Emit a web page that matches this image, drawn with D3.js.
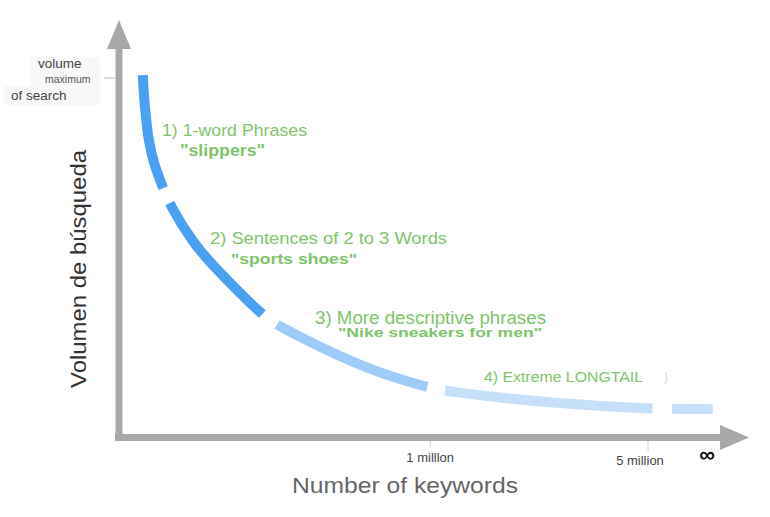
<!DOCTYPE html>
<html>
<head>
<meta charset="utf-8">
<script src="https://cdn.jsdelivr.net/npm/d3@7"></script>
<style>
  html, body { margin: 0; padding: 0; background: #ffffff; }
  svg { display: block; font-family: "Liberation Sans", Arial, sans-serif; }
</style>
</head>
<body>
<svg id="chart" width="770" height="517"></svg>
<script>
// ---- data ----
// position along the "number of keywords" axis (0..100 abstract units)
const keywordPos = [3.8, 3.9, 4.2, 4.7, 5.7, 7.0, 8.3, 12.2, 16.2, 23.7, 26.2, 34.5, 42.8, 50.8, 54.2, 71.7, 88.7, 98.8];
// search volume (100 = maximum volume of search)
const searchVol  = [100.8, 97.0, 91.1, 82.8, 75.8, 70.2, 64.6, 54.0, 46.5, 34.0, 31.2, 24.2, 18.1, 14.2, 12.8, 9.5, 7.9, 7.9];

// dashed pieces of the curve (start / end in keyword units)
const pieceStart = [3.8, 8.3, 26.2, 54.2, 92.0];
const pieceEnd   = [7.2, 23.7, 51.2, 88.7, 98.8];
const pieceColor = ["#4aa0f2", "#4aa0f2", "#9ecbf7", "#c6e0fa", "#c6e0fa"];

// x ticks
const xTickPos    = [51.7, 88.0];
const xTickLabels = ["1 milllon", "5 million"];
// y tick (maximum)
const yTickVal    = [100];
const yTickLines  = ["volume", "maximum", "of search"];

// annotations
const noteTitles = ["1) 1-word Phrases", "2) Sentences of 2 to 3 Words", "3) More descriptive phrases", "4) Extreme LONGTAIL"];
const noteExamples = ["\"slippers\"", "\"sports shoes\"", "\"Nike sneakers for men\"", ""];

const axisTitleX = "Number of keywords";
const axisTitleY = "Volumen de búsqueda";

// ---- drawing ----
const svg = d3.select("#chart");
const x = d3.scaleLinear().domain([0, 100]).range([120, 720]);
const y = d3.scaleLinear().domain([0, 100]).range([437.5, 78]);

const axisColor = "#a6a8a9";
const green = "#7fc46c";

// faint label background
svg.append("rect").attr("x", 30).attr("y", 57).attr("width", 70).attr("height", 48).attr("fill", "#f8f8f8");
svg.append("rect").attr("x", 4).attr("y", 86).attr("width", 30).attr("height", 19).attr("fill", "#f8f8f8");

// y axis line + arrow
svg.append("line")
  .attr("x1", x(0) - 1).attr("x2", x(0) - 1)
  .attr("y1", y(0) + 3).attr("y2", 48)
  .attr("stroke", axisColor).attr("stroke-width", 7);
svg.append("path")
  .attr("d", d3.line()([[x(0) - 13, 49], [x(0) - 1, 20], [x(0) + 11, 49]]) + "Z")
  .attr("fill", axisColor);

// x axis line + arrow
svg.append("line")
  .attr("x1", x(0) - 5).attr("x2", 721)
  .attr("y1", y(0)).attr("y2", y(0))
  .attr("stroke", axisColor).attr("stroke-width", 7);
svg.append("path")
  .attr("d", d3.line()([[720, y(0) - 12.5], [749, y(0)], [720, y(0) + 12.5]]) + "Z")
  .attr("fill", axisColor);

// x ticks
const xt = svg.append("g");
xt.selectAll("line").data(xTickPos).join("line")
  .attr("x1", d => x(d)).attr("x2", d => x(d))
  .attr("y1", y(0) + 3.5).attr("y2", (d, i) => y(0) + (i ? 13 : 10))
  .attr("stroke", "#c8c8c8").attr("stroke-width", 1);
xt.selectAll("text").data(xTickLabels).join("text")
  .attr("x", (d, i) => x(xTickPos[i]) - (i ? 8 : 0))
  .attr("y", (d, i) => i ? 465 : 462)
  .attr("text-anchor", "middle")
  .attr("font-size", 13)
  .attr("fill", "#444")
  .text(d => d);

// infinity sign
svg.append("text")
  .attr("x", 707).attr("y", 462)
  .attr("text-anchor", "middle")
  .attr("font-size", 22).attr("font-weight", "bold")
  .attr("fill", "#111")
  .text("∞");

// y tick
svg.selectAll("line.ytick").data(yTickVal).join("line")
  .attr("class", "ytick")
  .attr("x1", 104).attr("x2", x(0) - 5)
  .attr("y1", d => y(d)).attr("y2", d => y(d))
  .attr("stroke", "#cfcfcf").attr("stroke-width", 1.5);
const yl = svg.append("g");
yl.append("text").attr("x", 38).attr("y", 68).attr("font-size", 13.5).attr("fill", "#444").text(yTickLines[0]);
yl.append("text").attr("x", 45).attr("y", 83).attr("font-size", 10.5).attr("fill", "#555").text(yTickLines[1]);
yl.append("text").attr("x", 11).attr("y", 100).attr("font-size", 13.5).attr("fill", "#444").text(yTickLines[2]);

// axis titles
svg.append("text")
  .attr("x", 292).attr("y", 493)
  .attr("font-size", 22).attr("fill", "#666")
  .attr("textLength", 226).attr("lengthAdjust", "spacingAndGlyphs")
  .text(axisTitleX);
svg.append("text")
  .attr("transform", "translate(86,388) rotate(-90)")
  .attr("font-size", 22).attr("fill", "#333")
  .attr("textLength", 238).attr("lengthAdjust", "spacingAndGlyphs")
  .text(axisTitleY);

// curve
const pts = keywordPos.map((k, i) => [x(k), y(searchVol[i])]);
const curveD = d3.line().curve(d3.curveBasis)(pts);
const probe = svg.append("path").attr("d", curveD).attr("fill", "none").attr("stroke", "none");
const node = probe.node();
const L = node.getTotalLength();
function lengthAtX(px) {
  let lo = 0, hi = L;
  for (let k = 0; k < 40; k++) {
    const mid = (lo + hi) / 2;
    if (node.getPointAtLength(mid).x < px) lo = mid; else hi = mid;
  }
  return (lo + hi) / 2;
}
pieceStart.forEach((s, i) => {
  const ls = lengthAtX(x(s));
  const le = lengthAtX(x(pieceEnd[i]));
  svg.append("path")
    .attr("d", curveD)
    .attr("fill", "none")
    .attr("stroke", pieceColor[i])
    .attr("stroke-width", 10)
    .attr("stroke-linecap", "butt")
    .attr("stroke-dasharray", `0 ${ls} ${le - ls} ${L + 10}`);
});

// annotations
const notes = svg.append("g").attr("fill", green);
const titleLayout = [
  {x: 162, y: 136, size: 16, len: 145},
  {x: 210, y: 244, size: 17, len: 237},
  {x: 315, y: 323.5, size: 18, len: 231},
  {x: 484, y: 382, size: 15, len: 159}
];
const exLayout = [
  {x: 180, y: 156, size: 16, len: 85},
  {x: 231, y: 264, size: 15, len: 126},
  {x: 338, y: 337, size: 12.5, len: 204},
  null
];
noteTitles.forEach((t, i) => {
  const l = titleLayout[i];
  notes.append("text").attr("x", l.x).attr("y", l.y).attr("font-size", l.size)
    .attr("textLength", l.len).attr("lengthAdjust", "spacingAndGlyphs").text(t);
  const e = exLayout[i];
  if (e && noteExamples[i]) {
    notes.append("text").attr("x", e.x).attr("y", e.y).attr("font-size", e.size)
      .attr("font-weight", "bold")
      .attr("textLength", e.len).attr("lengthAdjust", "spacingAndGlyphs").text(noteExamples[i]);
  }
});
svg.append("text").attr("x", 664).attr("y", 381).attr("font-size", 12).attr("fill", "#d8d8d8").text(")");
</script>
</body>
</html>
